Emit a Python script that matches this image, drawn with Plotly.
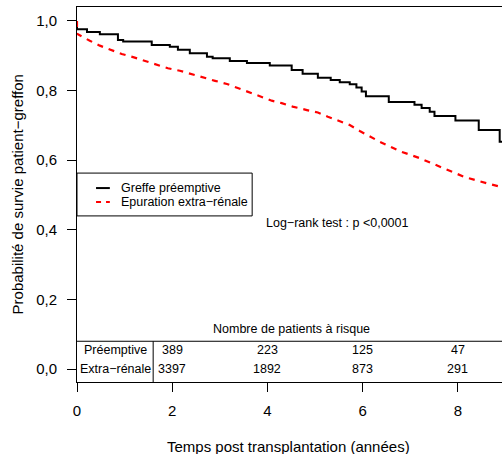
import plotly.graph_objects as go

# ---- data ----
series_names = ["Greffe préemptive", "Epuration extra\u2212rénale"]

preempt_t = [0, 0, 0.21, 0.48, 0.86, 0.97, 1.57, 1.95, 2.12, 2.37, 2.73, 2.85, 3.21, 3.57,
             4.05, 4.51, 4.74, 5.06, 5.33, 5.52, 5.73, 5.87, 5.98, 6.07, 6.55, 7.09, 7.24,
             7.41, 7.51, 7.95, 8.44, 8.88, 9.0]
preempt_s = [1.0, 0.976, 0.968, 0.962, 0.945, 0.941, 0.931, 0.926, 0.917, 0.907, 0.897, 0.893,
             0.885, 0.879, 0.872, 0.859, 0.848, 0.837, 0.830, 0.824, 0.818, 0.809, 0.797, 0.784,
             0.767, 0.759, 0.750, 0.739, 0.727, 0.714, 0.687, 0.653, 0.653]

dialyse_t = [0, 0, 0.27, 0.48, 0.69, 0.94, 1.18, 1.43, 1.68, 1.91, 2.16, 2.41, 2.64, 2.9, 3.15,
             3.38, 3.59, 3.84, 4.09, 4.3, 4.53, 4.83, 5.06, 5.27, 5.52, 5.73, 5.94, 6.36, 6.78,
             7.2, 7.68, 8.14, 8.6, 8.88, 9.0]
dialyse_s = [1.0, 0.963, 0.943, 0.929, 0.918, 0.905, 0.896, 0.885, 0.874, 0.864, 0.857, 0.847,
             0.837, 0.828, 0.819, 0.807, 0.795, 0.782, 0.771, 0.764, 0.754, 0.744, 0.737, 0.725,
             0.711, 0.701, 0.684, 0.653, 0.626, 0.606, 0.578, 0.552, 0.534, 0.523, 0.520]

risk_times = [2, 4, 6, 8]
risk_labels = ["Préemptive", "Extra\u2212rénale"]
risk_preempt = [389, 223, 125, 47]
risk_dialyse = [3397, 1892, 873, 291]

x_ticks = [0, 2, 4, 6, 8]
y_ticks = [0.0, 0.2, 0.4, 0.6, 0.8, 1.0]
y_ticktext = ["0,0", "0,2", "0,4", "0,6", "0,8", "1,0"]

x_title = "Temps post transplantation (années)"
y_title = "Probabilité de survie patient\u2212greffon"
table_title = "Nombre de patients à risque"
test_text = "Log\u2212rank test : p <0,0001"

FONT = "Liberation Sans, Arial, sans-serif"
SMALL = 12.5
BIG = 15

fig = go.Figure()
fig.add_trace(go.Scatter(x=preempt_t, y=preempt_s, mode="lines", line_shape="hv",
                         line=dict(color="black", width=2), name=series_names[0],
                         showlegend=False))
fig.add_trace(go.Scatter(x=dialyse_t, y=dialyse_s, mode="lines",
                         line=dict(color="#ff0000", width=2.2, dash="6px,6px"),
                         name=series_names[1], showlegend=False))

# manual legend box
fig.add_shape(type="rect", xref="x", yref="y", x0=0, x1=3.68, y0=0.44, y1=0.563,
              line=dict(color="black", width=1), fillcolor="white", layer="above")
leg_y = [0.520, 0.480]
leg_styles = [dict(color="black", width=2), dict(color="#ff0000", width=2.2, dash="5px,5px")]
for i in range(2):
    fig.add_shape(type="line", xref="x", yref="y", x0=0.40, x1=0.69, y0=leg_y[i], y1=leg_y[i],
                  line=leg_styles[i], layer="above")
    fig.add_annotation(x=0.88, y=leg_y[i], xref="x", yref="y", text=series_names[i],
                       showarrow=False, xanchor="left", yanchor="middle",
                       font=dict(size=SMALL, color="black", family=FONT))

fig.add_annotation(x=5.48, y=0.42, xref="x", yref="y", text=test_text, showarrow=False,
                   xanchor="center", yanchor="middle", font=dict(size=SMALL, color="black", family=FONT))

# risk table
fig.add_shape(type="line", xref="paper", yref="y", x0=0, x1=1, y0=0.080, y1=0.080,
              line=dict(color="black", width=1))
fig.add_shape(type="line", xref="x", yref="paper", x0=1.6, x1=1.6, y0=0, y1=(0.080 + 0.037) / 1.077,
              line=dict(color="black", width=1))
fig.add_annotation(x=4.5, y=0.115, xref="x", yref="y", text=table_title, showarrow=False,
                   xanchor="center", yanchor="middle", font=dict(size=SMALL, color="black", family=FONT))
row_y = [0.0546, 0.0]
for lab, yy in zip(risk_labels, row_y):
    fig.add_annotation(x=0.8, y=yy, xref="x", yref="y", text=lab, showarrow=False,
                       xanchor="center", yanchor="middle", font=dict(size=SMALL, color="black", family=FONT))
for row, yy in zip([risk_preempt, risk_dialyse], row_y):
    for t, n in zip(risk_times, row):
        fig.add_annotation(x=t, y=yy, xref="x", yref="y", text=str(n), showarrow=False,
                           xanchor="center", yanchor="middle",
                           font=dict(size=SMALL, color="black", family=FONT))

# axis titles
fig.add_annotation(x=-0.139, y=0.50, xref="paper", yref="paper", text=y_title, textangle=-90,
                   showarrow=False, xanchor="center", yanchor="middle",
                   font=dict(size=BIG, color="black", family=FONT))
fig.add_annotation(x=0.497, y=-0.171, xref="paper", yref="paper", text=x_title,
                   showarrow=False, xanchor="center", yanchor="middle",
                   font=dict(size=BIG, color="black", family=FONT))

fig.update_layout(
    width=502, height=454,
    margin=dict(l=77, r=0, t=7, b=72),
    paper_bgcolor="white", plot_bgcolor="white",
    font=dict(family=FONT, color="black", size=BIG),
    xaxis=dict(range=[0, 425 / 47.6], tickvals=x_ticks, ticktext=[str(v) for v in x_ticks],
               ticks="outside", ticklen=9, tickwidth=1, tickcolor="black",
               showline=True, linecolor="black", linewidth=1, mirror=True,
               showgrid=False, zeroline=False, ticklabelstandoff=6,
               tickfont=dict(size=BIG, color="black", family=FONT)),
    yaxis=dict(range=[-0.037, 1.04], tickvals=y_ticks, ticktext=y_ticktext,
               ticks="outside", ticklen=9, tickwidth=1, tickcolor="black",
               showline=True, linecolor="black", linewidth=1,
               showgrid=False, zeroline=False, ticklabelstandoff=7,
               tickfont=dict(size=BIG, color="black", family=FONT)),
)

fig.write_html("out.html", config={"displayModeBar": False},
               post_script="document.body.style.margin='0';document.body.style.overflow='hidden';")
